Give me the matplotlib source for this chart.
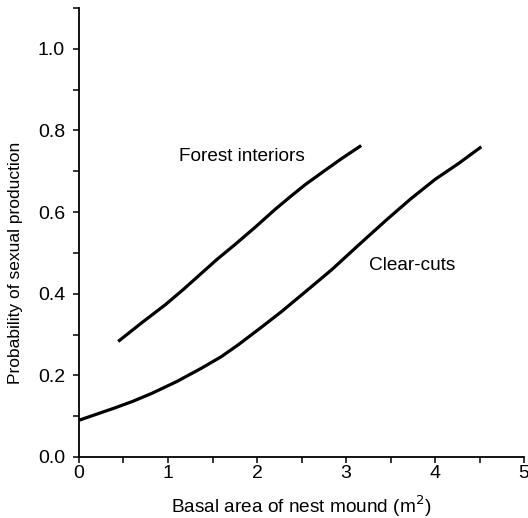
import numpy as np
import matplotlib.pyplot as plt
from matplotlib.ticker import MultipleLocator

plt.rcParams['font.family'] = ['Liberation Sans', 'DejaVu Sans']

# Curves
forest_x = [0.44, 0.70, 0.97, 1.17, 1.36, 1.55, 1.75, 1.98, 2.20, 2.37, 2.54, 2.75, 2.95, 3.17]
forest_y = [0.283, 0.328, 0.373, 0.410, 0.447, 0.484, 0.520, 0.563, 0.606, 0.637, 0.667, 0.700, 0.731, 0.763]

clear_x = [0.0, 0.2, 0.4, 0.6, 0.82, 1.1, 1.38, 1.6, 1.79, 2.05, 2.28, 2.55, 2.84, 3.15, 3.46, 3.73, 4.0, 4.27, 4.52]
clear_y = [0.090, 0.105, 0.120, 0.136, 0.156, 0.185, 0.218, 0.246, 0.275, 0.318, 0.357, 0.406, 0.459, 0.521, 0.582, 0.633, 0.680, 0.720, 0.760]

fig = plt.figure(figsize=(5.28, 5.18), dpi=100)
ax = fig.add_axes([0.1496, 0.1178, 0.843, 0.8668])

ax.plot(forest_x, forest_y, color='black', linewidth=2.3, solid_capstyle='butt')
ax.plot(clear_x, clear_y, color='black', linewidth=2.3, solid_capstyle='butt')

ax.text(1.83, 0.735, "Forest interiors", ha='center', va='center', fontsize=13.7)
ax.text(3.74, 0.469, "Clear-cuts", ha='center', va='center', fontsize=13.7)

ax.set_xlim(0, 5)
ax.set_ylim(0, 1.1)
ax.xaxis.set_major_locator(MultipleLocator(1))
ax.xaxis.set_minor_locator(MultipleLocator(0.5))
ax.yaxis.set_major_locator(MultipleLocator(0.2))
ax.yaxis.set_minor_locator(MultipleLocator(0.1))
ax.yaxis.set_major_formatter(plt.FormatStrFormatter('%.1f'))

for side in ['top', 'right']:
    ax.spines[side].set_visible(False)
for side in ['left', 'bottom']:
    ax.spines[side].set_linewidth(1.3)

ax.tick_params(which='both', direction='out', length=4, width=1.1, labelsize=14)
ax.tick_params(axis='x', pad=2)
ax.tick_params(axis='y', pad=6)

ax.set_xlabel("Basal area of nest mound (m$^2$)", fontsize=13.7, labelpad=8)
ax.set_ylabel("Probability of sexual production", fontsize=12.5)
ax.yaxis.set_label_coords(-0.125, 0.433)

fig.savefig("out.png", dpi=100)
